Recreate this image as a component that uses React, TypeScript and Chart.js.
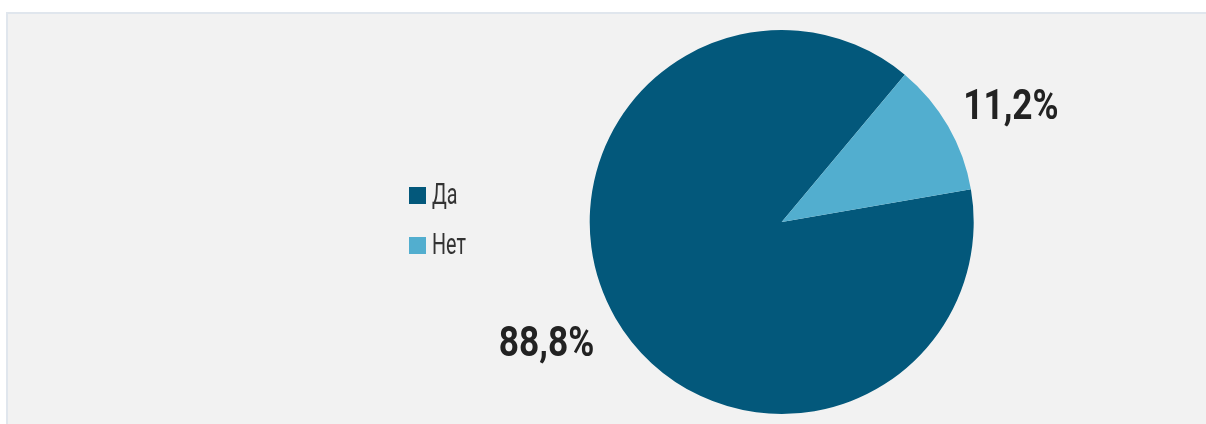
import React, { useEffect, useRef } from "react";
import { Chart, registerables } from "chart.js";

Chart.register(...registerables);

const labels = ["Да", "Нет"];
const values = [88.8, 11.2];
const valueLabels = ["88,8%", "11,2%"];
const colors = ["#03587B", "#52AECF"];

const W = 1198;
const H = 410;

const drawPlugin = {
  id: "customDraw",
  afterDraw(chart: any) {
    const ctx = chart.ctx as CanvasRenderingContext2D;
    const meta = chart.getDatasetMeta(0);
    meta.data.forEach((arc: any, i: number) => {
      const p = arc.getProps(["x", "y", "startAngle", "endAngle", "outerRadius"], true);
      const mid = (p.startAngle + p.endAngle) / 2;
      const d = p.outerRadius + 14;
      const ax = p.x + Math.cos(mid) * d;
      const ay = p.y + Math.sin(mid) * d;
      const c = Math.cos(mid);
      const s = Math.sin(mid);
      ctx.save();
      ctx.font = "bold 42px Roboto";
      ctx.fillStyle = "#222222";
      const sx = 0.84;
      const tw = ctx.measureText(valueLabels[i]).width * sx;
      const left = c >= 0 ? ax + 3 : ax - 9 - tw;
      const midY = ay + (s >= 0 ? 16 : -15);
      ctx.translate(left, midY + 15);
      ctx.scale(sx, 1);
      ctx.textAlign = "left";
      ctx.textBaseline = "alphabetic";
      ctx.fillText(valueLabels[i], 0, 0);
      ctx.restore();
    });
    labels.forEach((lab, i) => {
      const y = 173 + i * 50;
      ctx.save();
      ctx.fillStyle = colors[i];
      ctx.fillRect(401, y, 17, 17);
      ctx.font = "29px Roboto";
      ctx.fillStyle = "#333333";
      ctx.translate(424, y + 17);
      ctx.scale(0.68, 1);
      ctx.textAlign = "left";
      ctx.textBaseline = "alphabetic";
      ctx.fillText(lab, 0, 0);
      ctx.restore();
    });
  },
};

export default function App() {
  const ref = useRef<HTMLCanvasElement | null>(null);
  useEffect(() => {
    if (!ref.current) return;
    const chart = new Chart(ref.current, {
      type: "pie",
      data: {
        labels,
        datasets: [
          {
            data: values,
            backgroundColor: colors,
            borderWidth: 0,
          },
        ],
      },
      options: {
        animation: false,
        responsive: false,
        devicePixelRatio: 1,
        rotation: 80.2,
        layout: { padding: { left: 581.7, right: 232.3, top: 16, bottom: 10 } },
        plugins: {
          legend: { display: false },
          tooltip: { enabled: false },
        },
      },
      plugins: [drawPlugin],
    });
    return () => chart.destroy();
  }, []);
  return (
    <div
      style={{
        position: "fixed",
        left: 6,
        top: 12,
        width: 1200,
        height: 412,
        overflow: "hidden",
        background: "#f2f2f2",
        borderTop: "2px solid #e0e6ed",
        borderLeft: "2px solid #e0e6ed",
        boxSizing: "border-box",
      }}
    >
      <canvas ref={ref} width={W} height={H} style={{ display: "block", width: W, height: H }} />
    </div>
  );
}
